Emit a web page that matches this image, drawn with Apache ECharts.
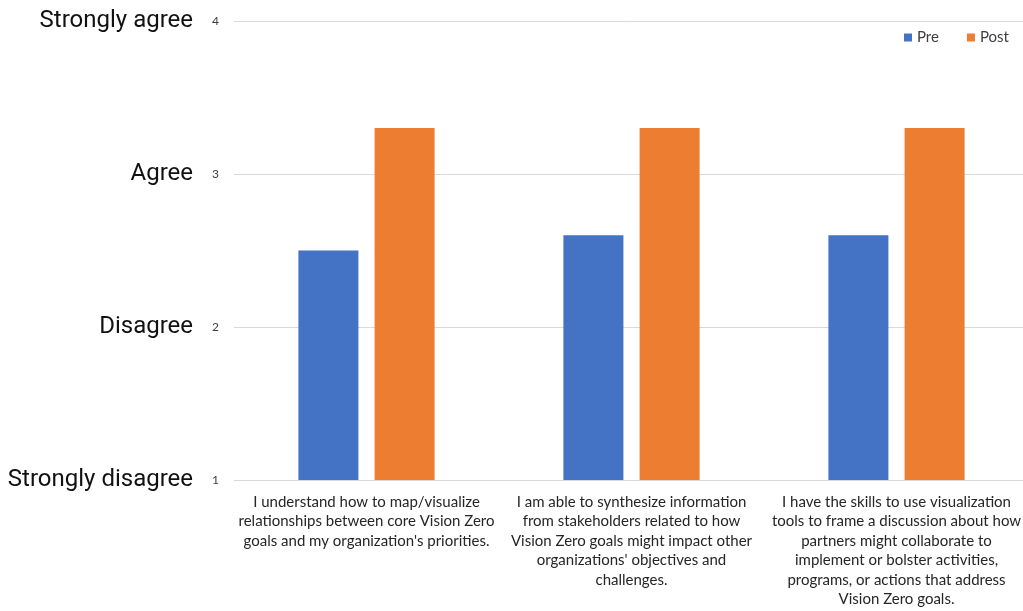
<!DOCTYPE html>
<html>
<head>
<meta charset="utf-8">
<script src="https://cdn.jsdelivr.net/npm/echarts@6/dist/echarts.min.js"></script>
<style>
html,body{margin:0;padding:0;background:#fff;overflow:hidden;width:1023px;height:611px;}
#chart{width:1030px;height:611px;}
</style>
</head>
<body>
<div id="chart"></div>
<script>
const categories = [
  "I understand how to map/visualize\nrelationships between core Vision Zero\ngoals and my organization's priorities.",
  "I am able to synthesize information\nfrom stakeholders related to how\nVision Zero goals might impact other\norganizations' objectives and\nchallenges.",
  "I have the skills to use visualization\ntools to frame a discussion about how\npartners might collaborate to\nimplement or bolster activities,\nprograms, or actions that address\nVision Zero goals."
];
const preValues = [2.5, 2.6, 2.6];
const postValues = [3.3, 3.3, 3.3];
const scaleLabels = ["Strongly disagree", "Disagree", "Agree", "Strongly agree"];

const chart = echarts.init(document.getElementById('chart'), null, {renderer: 'canvas'});
chart.setOption({
  animation: false,
  backgroundColor: '#ffffff',
  legend: {
    data: ['Pre', 'Post'],
    left: 899,
    top: 25,
    icon: 'rect',
    itemWidth: 8,
    itemHeight: 8,
    itemGap: 28,
    textStyle: {fontFamily: 'Lato', fontSize: 15, color: '#404040'}
  },
  grid: {left: 234, top: 21, width: 795, height: 459, containLabel: false},
  xAxis: {
    type: 'category',
    data: categories,
    axisLine: {show: true, lineStyle: {color: '#d9d9d9'}},
    axisTick: {show: false},
    axisLabel: {
      interval: 0,
      margin: 12,
      fontFamily: 'Lato',
      fontSize: 15,
      lineHeight: 19.5,
      color: '#262626',
      align: 'center'
    }
  },
  yAxis: {
    type: 'value',
    min: 1,
    max: 4,
    interval: 1,
    axisLine: {show: false},
    axisTick: {show: false},
    splitLine: {lineStyle: {color: '#d9d9d9', width: 1}},
    axisLabel: {
      margin: 15,
      formatter: function (v) {
        return '{big|' + scaleLabels[v - 1] + '}{num|' + v + '}';
      },
      rich: {
        big: {fontFamily: 'Roboto', fontSize: 24, color: '#111111', padding: [0, 19, 0, 0], verticalAlign: 'middle'},
        num: {fontFamily: 'Lato', fontSize: 12, color: '#404040', verticalAlign: 'middle'}
      }
    }
  },
  series: [
    {name: 'Pre', type: 'bar', data: preValues, barWidth: 60, barGap: '27%', itemStyle: {color: '#4472C4'}},
    {name: 'Post', type: 'bar', data: postValues, barWidth: 60, barGap: '27%', itemStyle: {color: '#ED7D31'}}
  ]
});
</script>
</body>
</html>
